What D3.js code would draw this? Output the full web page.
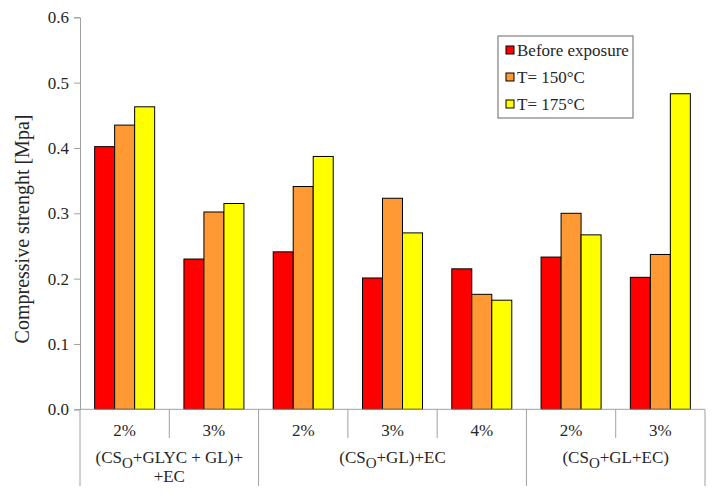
<!DOCTYPE html>
<html>
<head>
<meta charset="utf-8">
<script src="https://cdn.jsdelivr.net/npm/d3@7"></script>
<style>
  body { margin: 0; background: #fff; }
</style>
</head>
<body>
<svg id="chart" width="712" height="498"></svg>
<script>
// ---- data ----
const categories = ["2%", "3%", "2%", "3%", "4%", "2%", "3%"];
const groupNames = [["(CS", "O", "+GLYC + GL)+", "+EC"], ["(CS", "O", "+GL)+EC"], ["(CS", "O", "+GL+EC)"]];
const groupSizes = [2, 3, 2];
const seriesNames = ["Before exposure", "T= 150°C", "T= 175°C"];
const seriesColors = ["#ff0000", "#ff9933", "#ffff00"];
const beforeExposure = [0.402, 0.230, 0.241, 0.201, 0.215, 0.233, 0.202];
const t150 = [0.435, 0.302, 0.341, 0.323, 0.176, 0.300, 0.237];
const t175 = [0.463, 0.315, 0.387, 0.270, 0.167, 0.267, 0.483];
const yTicks = [0, 0.1, 0.2, 0.3, 0.4, 0.5, 0.6];
const seriesValues = [beforeExposure, t150, t175];

// ---- layout ----
const FONT = '"Liberation Serif"';
const TXT = "#262626";
const svg = d3.select("#chart");
const mLeft = 80, mRight = 705, mTop = 17.3, mBottom = 409.3;

const x = d3.scaleBand().domain(d3.range(categories.length)).range([mLeft, mRight])
  .paddingInner(0.328).paddingOuter(0.164);
const xs = d3.scaleBand().domain(d3.range(seriesNames.length)).range([0, x.bandwidth()]);
const y = d3.scaleLinear().domain([0, 0.6]).range([mBottom, mTop]);

// bars
seriesValues.forEach((vals, si) => {
  svg.append("g").selectAll("rect").data(vals).join("rect")
    .attr("x", (d, i) => x(i) + xs(si))
    .attr("y", d => y(d))
    .attr("width", xs.bandwidth())
    .attr("height", d => y(0) - y(d))
    .attr("fill", seriesColors[si])
    .attr("stroke", "#000")
    .attr("stroke-width", 1);
});

// y axis
const yAxis = d3.axisLeft(y).tickValues(yTicks).tickFormat(d3.format(".1f")).tickSizeOuter(0).tickSize(6).tickPadding(5);
const yg = svg.append("g").attr("transform", `translate(${mLeft},0)`).call(yAxis);
yg.select(".domain").attr("stroke", "#a0a0a0");
yg.selectAll(".tick line").attr("stroke", "#a0a0a0");
yg.selectAll(".tick text").style("font-size", "17px").style("font-family", FONT).attr("fill", TXT);

// y title
svg.append("text")
  .attr("transform", `translate(29,229) rotate(-90)`)
  .attr("text-anchor", "middle")
  .style("font-family", FONT).style("font-size", "20px").attr("fill", TXT)
  .text("Compressive strenght [Mpa]");

// x axis line
const step = x.step();
svg.append("line").attr("x1", mLeft).attr("x2", mRight).attr("y1", mBottom).attr("y2", mBottom)
  .attr("stroke", "#a0a0a0");

// category labels + separators
categories.forEach((c, i) => {
  svg.append("text")
    .attr("x", x(i) + x.bandwidth() / 2)
    .attr("y", 436)
    .attr("text-anchor", "middle")
    .style("font-family", FONT).style("font-size", "17px").attr("fill", TXT)
    .text(c);
});
let boundaries = [0];
groupSizes.reduce((acc, s) => { boundaries.push(acc + s); return acc + s; }, 0);
for (let i = 0; i <= categories.length; i++) {
  const bx = mLeft + i * step;
  const isGroup = boundaries.includes(i);
  svg.append("line").attr("x1", bx).attr("x2", bx)
    .attr("y1", mBottom).attr("y2", isGroup ? 486 : 438)
    .attr("stroke", "#a0a0a0");
}

// group labels
groupNames.forEach((g, gi) => {
  const start = boundaries[gi], end = boundaries[gi + 1];
  const cx = mLeft + (start + end) / 2 * step;
  const t = svg.append("text").attr("x", cx).attr("y", 463)
    .attr("text-anchor", "middle")
    .style("font-family", FONT).style("font-size", "17px").attr("fill", TXT);
  t.append("tspan").text(g[0]);
  t.append("tspan").attr("dy", 5).style("font-size", "15px").text(g[1]);
  t.append("tspan").attr("dy", -5).text(g[2]);
  if (g[3]) {
    svg.append("text").attr("x", cx).attr("y", 482)
      .attr("text-anchor", "middle")
      .style("font-family", FONT).style("font-size", "17px").attr("fill", TXT)
      .text(g[3]);
  }
});

// legend
const lg = svg.append("g").attr("transform", "translate(498,36)");
lg.append("rect").attr("width", 135).attr("height", 82)
  .attr("fill", "#fff").attr("stroke", "#808080").attr("stroke-width", 1.2);
seriesNames.forEach((s, i) => {
  const cy = 14 + i * 27;
  lg.append("rect").attr("x", 8).attr("y", cy - 4).attr("width", 8).attr("height", 8)
    .attr("fill", seriesColors[i]).attr("stroke", "#000");
  lg.append("text").attr("x", 19).attr("y", cy + 5.5)
    .style("font-family", FONT).style("font-size", "17px").attr("fill", TXT).text(s);
});
</script>
</body>
</html>
